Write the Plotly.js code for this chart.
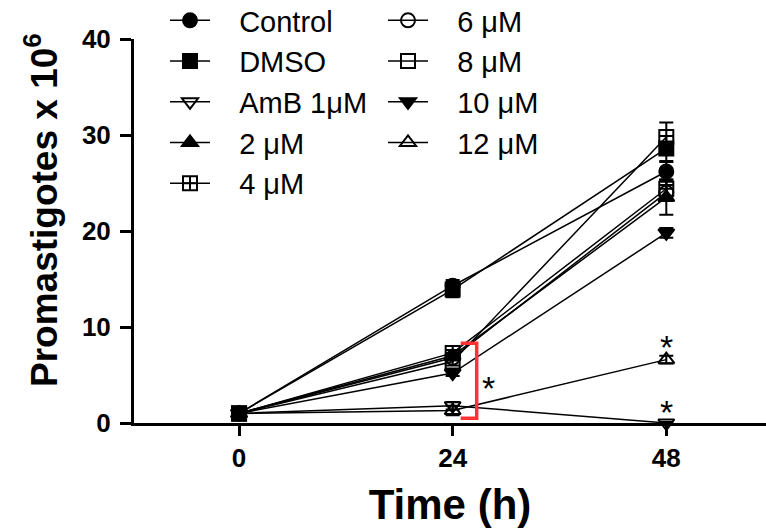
<!DOCTYPE html>
<html>
<head>
<meta charset="utf-8">
<script src="https://cdn.plot.ly/plotly-3.0.1.min.js"></script>
<style>html,body{margin:0;padding:0;background:#fff;}#chart{width:766px;height:528px;}</style>
</head>
<body>
<div id="chart"></div>
<script>
const time = [0, 24, 48];
const seriesNames = ["Control", "DMSO", "AmB 1μM", "2 μM", "4 μM", "6 μM", "8 μM", "10 μM", "12 μM"];
const control = [1.0, 14.3, 26.2];
const dmso = [1.0, 13.9, 28.6];
const amb = [1.0, 1.8, 0.0];
const m2 = [1.0, 7.0, 23.5];
const m4 = [1.0, 7.3, 24.4];
const m6 = [1.0, 6.8, 24.0];
const m8 = [1.0, 6.4, 29.8];
const m10 = [1.0, 5.2, 19.8];
const m12 = [1.0, 1.3, 6.6];
const errControl = [0.1, 0.6, 1.0];
const errDmso = [0.1, 0.8, 1.3];
const errAmb = [0.1, 0.4, 0.1];
const errM2 = [0.1, 0.3, 1.8];
const errM4 = [0.1, 0.3, 1.0];
const errM6 = [0.1, 0.3, 0.8];
const errM8 = [0.1, 0.4, 1.5];
const errM10 = [0.1, 0.3, 0.5];
const errM12 = [0.1, 0.5, 0.4];
const symbols = ["circle", "square", "triangle-down-open", "triangle-up", "square-cross-open", "circle-open", "square-open", "triangle-down", "triangle-up-open"];
const legendIds = ["legend", "legend", "legend", "legend", "legend", "legend2", "legend2", "legend2", "legend2"];
const values = [control, dmso, amb, m2, m4, m6, m8, m10, m12];
const errors = [errControl, errDmso, errAmb, errM2, errM4, errM6, errM8, errM10, errM12];

// annotation markers (significance bracket and stars)
const bracketX = [24.9, 26.7];
const bracketY = [0.5, 8.3];
const starX = [28.0, 48, 48];
const starY = [3.6, 7.9, 1.15];

const yTitle = "<b>Promastigotes x 10<sup>6</sup></b>";
const xTitle = "<b>Time (h)</b>";

const font = "Arial, 'Liberation Sans', sans-serif";
const gap = "\u00a0\u00a0\u00a0";

const traces = values.map((v, i) => ({
  x: time, y: v, name: gap + seriesNames[i], type: "scatter", mode: "lines+markers",
  legend: legendIds[i], legendgroup: "g" + i,
  line: {color: "#000", width: 1.5},
  marker: {symbol: symbols[i], size: 14, color: "#000", line: {color: "#000", width: 2}},
  error_y: {type: "data", array: errors[i], visible: true, color: "#000", thickness: 2, width: 7},
  cliponaxis: false
}));

const plotL = 134, plotW = 632, plotT = 39, plotH = 384;
const legendBox = (px, py) => ({x: (px - plotL) / plotW, y: (plotT + plotH - py) / plotH});

const l1 = legendBox(165, -5), l2 = legendBox(383, -5);
const yt = legendBox(41, 210);

const layout = {
  width: 766, height: 528,
  margin: {l: 134, r: 0, t: 39, b: 105, autoexpand: false},
  paper_bgcolor: "#fff", plot_bgcolor: "#fff",
  font: {family: font, color: "#000"},
  showlegend: true,
  xaxis: {
    range: [-11.8, 59.2], tickvals: time, ticktext: time.map(String),
    showgrid: false, zeroline: false, showline: true, linecolor: "#000", linewidth: 3,
    ticks: "outside", ticklen: 10, tickwidth: 3, tickcolor: "#000",
    tickfont: {family: font, size: 26, weight: "bold"},
    title: {text: xTitle, font: {family: font, size: 42}, standoff: 18}
  },
  yaxis: {
    range: [0, 40], tickvals: [0, 10, 20, 30, 40],
    showgrid: false, zeroline: false, showline: true, linecolor: "#000", linewidth: 3,
    ticks: "outside", ticklen: 11, tickwidth: 3, tickcolor: "#000", ticklabelstandoff: 4,
    tickfont: {family: font, size: 26, weight: "bold"}
  },
  legend: {
    x: l1.x, y: l1.y, xanchor: "left", yanchor: "top",
    font: {family: font, size: 29}, bgcolor: "rgba(0,0,0,0)", tracegroupgap: 0, itemwidth: 40
  },
  legend2: {
    x: l2.x, y: l2.y, xanchor: "left", yanchor: "top",
    font: {family: font, size: 29}, bgcolor: "rgba(0,0,0,0)", tracegroupgap: 0, itemwidth: 40
  },
  shapes: [{
    type: "path", xref: "x", yref: "y",
    path: `M ${bracketX[0]} ${bracketY[1]} L ${bracketX[1]} ${bracketY[1]} L ${bracketX[1]} ${bracketY[0]} L ${bracketX[0]} ${bracketY[0]}`,
    line: {color: "#ff3333", width: 3.5}
  }],
  annotations: starX.map((x, i) => ({
    x: x, y: starY[i], xref: "x", yref: "y", text: "*", showarrow: false,
    font: {family: font, size: 34, color: "#000"}
  })).concat([{
    x: yt.x, y: yt.y, xref: "paper", yref: "paper", text: yTitle, textangle: -90,
    showarrow: false, xanchor: "center", yanchor: "middle",
    font: {family: font, size: 37, color: "#000"}
  }])
};

Plotly.newPlot("chart", traces, layout, {displayModeBar: false, staticPlot: true});
</script>
</body>
</html>
